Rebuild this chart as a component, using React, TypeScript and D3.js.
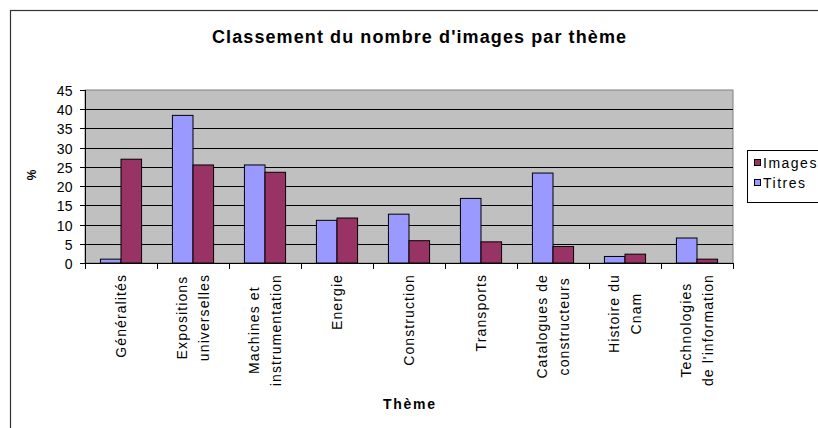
import { useRef, useEffect } from 'react';
import * as d3 from 'd3';

const categories = [
    'Généralités',
    'Expositions universelles',
    'Machines et instrumentation',
    'Energie',
    'Construction',
    'Transports',
    'Catalogues de constructeurs',
    'Histoire du Cnam',
    "Technologies de l'information",
];
const labelLines = [
    ['Généralités'],
    ['Expositions', 'universelles'],
    ['Machines et', 'instrumentation'],
    ['Energie'],
    ['Construction'],
    ['Transports'],
    ['Catalogues de', 'constructeurs'],
    ['Histoire du', 'Cnam'],
    ['Technologies', "de l'information"],
];
const titres = [1.0, 38.4, 25.5, 11.1, 12.7, 16.8, 23.4, 1.7, 6.5];
const images = [27.0, 25.5, 23.6, 11.7, 5.8, 5.5, 4.3, 2.3, 1.0];
const series = ['Titres', 'Images'];
const yTicks = [0, 5, 10, 15, 20, 25, 30, 35, 40, 45];

const colors: Record<string, string> = { Titres: '#9999FF', Images: '#993366' };
const FONT = '"Liberation Sans", Arial, sans-serif';

export default function App() {
    const svgRef = useRef<SVGSVGElement>(null);

    useEffect(() => {
        if (!svgRef.current) return;
        const svg = d3.select(svgRef.current);
        svg.selectAll('*').remove();

        const left = 85, right = 733, top = 90, bottom = 263;

        const x0 = d3.scaleBand<string>().domain(categories).range([left, right]).paddingInner(0).paddingOuter(0);
        const x1 = d3.scaleBand<string>().domain(series).range([0, x0.bandwidth()]).paddingInner(0).paddingOuter(0.75);
        const y = d3.scaleLinear().domain([0, 45]).range([bottom, top]);

        // outer frame
        svg.append('rect')
            .attr('x', 10.5).attr('y', 10.5)
            .attr('width', 830).attr('height', 440)
            .attr('fill', 'white').attr('stroke', '#333').attr('stroke-width', 1.2);

        // title
        svg.append('text')
            .attr('x', 212).attr('y', 43)
            .attr('textLength', 414).attr('lengthAdjust', 'spacing')
            .attr('font-family', FONT).attr('font-size', 18).attr('font-weight', 'bold')
            .text("Classement du nombre d'images par thème");

        // plot area
        svg.append('rect')
            .attr('x', left).attr('y', top)
            .attr('width', right - left).attr('height', bottom - top)
            .attr('fill', '#C0C0C0').attr('stroke', '#808080').attr('stroke-width', 1);

        // gridlines
        svg.append('g').selectAll('line')
            .data(yTicks.filter(t => t > 0 && t < 45))
            .enter().append('line')
            .attr('x1', left).attr('x2', right)
            .attr('y1', d => Math.round(y(d)) + 0.5).attr('y2', d => Math.round(y(d)) + 0.5)
            .attr('stroke', '#000').attr('stroke-width', 1);

        // bars
        const rows = categories.map((c, i) => ({ c, Titres: titres[i], Images: images[i] }));
        const groups = svg.append('g').selectAll('g')
            .data(rows)
            .enter().append('g')
            .attr('transform', d => `translate(${x0(d.c)},0)`);
        groups.selectAll('rect')
            .data(d => series.map(s => ({ s, v: (d as any)[s] as number })))
            .enter().append('rect')
            .attr('x', d => x1(d.s)!)
            .attr('y', d => y(d.v))
            .attr('width', x1.bandwidth())
            .attr('height', d => bottom - y(d.v))
            .attr('fill', d => colors[d.s])
            .attr('stroke', '#000').attr('stroke-width', 1);

        // axes lines
        svg.append('line').attr('x1', left + 0.5).attr('x2', left + 0.5).attr('y1', top).attr('y2', bottom)
            .attr('stroke', '#000');
        svg.append('line').attr('x1', left).attr('x2', right).attr('y1', bottom + 0.5).attr('y2', bottom + 0.5)
            .attr('stroke', '#000');

        // y ticks & labels
        const yg = svg.append('g');
        yTicks.forEach(t => {
            const yy = Math.round(y(t)) + 0.5;
            yg.append('line').attr('x1', left - 5).attr('x2', left).attr('y1', yy).attr('y2', yy).attr('stroke', '#000');
            yg.append('text')
                .attr('x', 73).attr('y', yy).attr('dy', '0.36em')
                .attr('text-anchor', 'end')
                .attr('font-family', FONT).attr('font-size', 14).attr('letter-spacing', 0.4)
                .text(t);
        });

        // x ticks at boundaries
        const bounds = categories.map(c => x0(c)!).concat([right]);
        svg.append('g').selectAll('line')
            .data(bounds)
            .enter().append('line')
            .attr('x1', d => Math.round(d) + 0.5).attr('x2', d => Math.round(d) + 0.5)
            .attr('y1', bottom).attr('y2', bottom + 6)
            .attr('stroke', '#000');

        // x labels, rotated
        const lineGap = 21.6;
        labelLines.forEach((lines, i) => {
            const cx = x0(categories[i])! + x0.bandwidth() / 2;
            const texts = lines.map((ln, k) => {
                const lx = cx + (k - (lines.length - 1) / 2) * lineGap;
                return svg.append('text')
                    .attr('font-family', FONT).attr('font-size', 14).attr('letter-spacing', 1.1)
                    .attr('text-anchor', 'middle').attr('dy', '0.35em')
                    .attr('data-x', lx)
                    .text(ln);
            });
            const maxLen = d3.max(texts, t => (t.node() as SVGTextElement).getComputedTextLength()) || 0;
            const cy = 274 + maxLen / 2;
            texts.forEach(t => {
                const lx = +t.attr('data-x');
                t.attr('transform', `translate(${lx},${cy}) rotate(-90)`);
            });
        });

        // axis titles
        svg.append('text')
            .attr('x', 383).attr('y', 409)
            .attr('textLength', 52).attr('lengthAdjust', 'spacing')
            .attr('font-family', FONT).attr('font-size', 14).attr('font-weight', 'bold')
            .text('Thème');
        svg.append('text')
            .attr('transform', 'translate(36,175) rotate(-90)')
            .attr('text-anchor', 'middle')
            .attr('font-family', FONT).attr('font-size', 12).attr('font-weight', 'bold')
            .text('%');

        // legend
        const lg = svg.append('g');
        lg.append('rect').attr('x', 747.5).attr('y', 150.5).attr('width', 80).attr('height', 52)
            .attr('fill', 'white').attr('stroke', '#000');
        ['Images', 'Titres'].forEach((s, k) => {
            const base = 168 + k * 20;
            lg.append('rect').attr('x', 754.5).attr('y', base - 8.5).attr('width', 6).attr('height', 6)
                .attr('fill', colors[s]).attr('stroke', '#000');
            lg.append('text').attr('x', 763).attr('y', base)
                .attr('font-family', FONT).attr('font-size', 14).attr('letter-spacing', 1.5)
                .text(s);
        });
    }, []);

    return (
        <svg
            ref={svgRef}
            width={818}
            height={428}
            style={{ position: 'absolute', left: 0, top: 0, background: 'white' }}
        />
    );
}
